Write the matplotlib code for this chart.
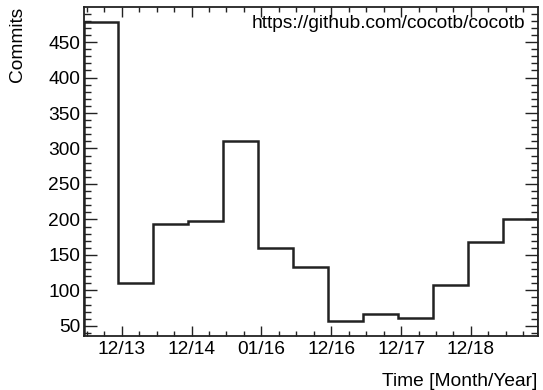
#!/usr/bin/env python3
"""Commit histogram for cocotb, ROOT-like style."""
import matplotlib
matplotlib.use('Agg')
import matplotlib.pyplot as plt
from matplotlib.ticker import MultipleLocator

plt.rcParams['font.family'] = ['Liberation Sans', 'DejaVu Sans']

# bins of six months, x measured in months from the first bin edge
bin_edges = [0, 6, 12, 18, 24, 30, 36, 42, 48, 54, 60, 66, 72, 78]
commits = [478, 110, 194, 198, 311, 159, 133, 57, 67, 61, 108, 168, 201]

tick_pos = [6.56, 18.56, 30.56, 42.56, 54.56, 66.56]
tick_labels = ['12/13', '12/14', '01/16', '12/16', '12/17', '12/18']

fig = plt.figure(figsize=(5.43, 3.90), dpi=100)
ax = fig.add_axes([0.1538, 0.1392, 0.8361, 0.8428])

ax.stairs(commits, bin_edges, color='#222222', linewidth=1.8)

ax.set_xlim(bin_edges[0], bin_edges[-1])
ax.set_ylim(36, 499.5)

ax.set_xticks(tick_pos)
ax.set_xticklabels(tick_labels)
ax.xaxis.set_minor_locator(MultipleLocator(3, offset=0.56))
ax.yaxis.set_major_locator(MultipleLocator(50))
ax.yaxis.set_minor_locator(MultipleLocator(10))

fs = 13.8
ax.tick_params(axis='both', which='both', direction='in', top=True, right=True,
               colors='#222222', labelcolor='black', labelsize=fs, width=1.0)
ax.tick_params(axis='x', which='major', length=7.2, pad=4)
ax.tick_params(axis='x', which='minor', length=3.6)
ax.tick_params(axis='y', which='major', length=9.4, pad=2.5)
ax.tick_params(axis='y', which='minor', length=5.0)

for sp in ax.spines.values():
    sp.set_linewidth(1.3)
    sp.set_color('#222222')

ax.set_ylabel('Commits', fontsize=fs, loc='top')
ax.yaxis.set_label_coords(-0.127, 1.0)

ax.text(1.0, -0.152, 'Time [Month/Year]', transform=ax.transAxes,
        ha='right', va='baseline', fontsize=fs)

ax.text(0.9725, 0.935, 'https://github.com/cocotb/cocotb', transform=ax.transAxes,
        ha='right', va='baseline', fontsize=fs)

plt.savefig('out.png', dpi=100)
plt.close()
print("Saved: out.png")
